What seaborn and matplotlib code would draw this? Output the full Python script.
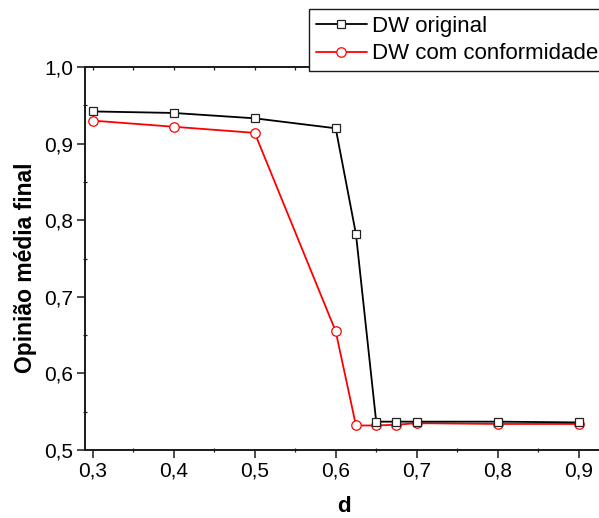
import matplotlib
matplotlib.use("Agg")
import matplotlib.pyplot as plt
from matplotlib.ticker import FuncFormatter, MultipleLocator, NullFormatter
import seaborn as sns
import pandas as pd

# Bounded-confidence (Deffuant-Weisbuch) final mean opinion vs threshold d
d_original = [0.3, 0.4, 0.5, 0.6, 0.625, 0.65, 0.675, 0.7, 0.8, 0.9]
op_original = [0.942, 0.940, 0.933, 0.920, 0.782, 0.537, 0.537, 0.537, 0.537, 0.536]

d_conform = [0.3, 0.4, 0.5, 0.6, 0.625, 0.65, 0.675, 0.7, 0.8, 0.9]
op_conform = [0.930, 0.922, 0.914, 0.655, 0.532, 0.532, 0.533, 0.535, 0.534, 0.534]

label_original = "DW original"
label_conform = "DW com conformidade"

x_ticks = [0.3, 0.4, 0.5, 0.6, 0.7, 0.8, 0.9]
y_ticks = [0.5, 0.6, 0.7, 0.8, 0.9, 1.0]

sns.set_theme(style="ticks")
plt.rcParams["font.family"] = ["Liberation Sans", "DejaVu Sans"]

fig = plt.figure(figsize=(5.99, 5.18), dpi=100)
W, H = 599, 518
x_lo, x_hi = 0.2905, 0.93
px_per_unit = 810.0
ax_left, ax_top, ax_bottom = 85, 67, 450
ax_right = ax_left + (x_hi - x_lo) * px_per_unit
ax = fig.add_axes([ax_left / W, 1 - ax_bottom / H,
                   (ax_right - ax_left) / W, (ax_bottom - ax_top) / H])

df_o = pd.DataFrame({"d": d_original, "op": op_original})
df_c = pd.DataFrame({"d": d_conform, "op": op_conform})

sns.lineplot(data=df_o, x="d", y="op", ax=ax, color="black", lw=1.3,
             marker="s", markersize=5.8, markerfacecolor="white",
             markeredgecolor="#222222", markeredgewidth=0.9,
             label=label_original, zorder=3)
sns.lineplot(data=df_c, x="d", y="op", ax=ax, color="#ff0000", lw=1.3,
             marker="o", markersize=6.8, markerfacecolor="white",
             markeredgecolor="#ff0000", markeredgewidth=0.9,
             label=label_conform, zorder=2)

ax.set_xlim(x_lo, x_hi)
ax.set_ylim(0.5, 1.0)
ax.set_xticks(x_ticks)
ax.set_yticks(y_ticks)
ax.xaxis.set_minor_locator(MultipleLocator(0.05))
ax.yaxis.set_minor_locator(MultipleLocator(0.05))
fmt = FuncFormatter(lambda v, p: f"{v:.1f}".replace(".", ","))
ax.xaxis.set_major_formatter(fmt)
ax.yaxis.set_major_formatter(fmt)

for s in ax.spines.values():
    s.set_color("#1a1a1a")
    s.set_linewidth(1.4)

ax.tick_params(which="major", direction="out", length=5.5, width=1.1,
               color="#1a1a1a", labelsize=15, labelcolor="black", pad=3)
ax.tick_params(which="minor", direction="inout", length=2.5, width=0.9,
               color="#1a1a1a")

# small inward ticks along the top edge
top = ax.secondary_xaxis("top")
top.set_xticks(x_ticks)
top.xaxis.set_minor_locator(MultipleLocator(0.05))
top.xaxis.set_major_formatter(NullFormatter())
top.tick_params(which="both", direction="in", length=2.5, width=0.9,
                color="#1a1a1a")
top.spines["top"].set_visible(False)

ax.set_xlabel("d", fontsize=16, fontweight="bold", color="black", labelpad=11)
ax.set_ylabel("Opinião média final", fontsize=16.5, fontweight="bold",
              color="black")
ax.yaxis.set_label_coords(-0.093, 0.475)

leg = ax.legend(loc="upper left", bbox_to_anchor=(309 / W, 1 - 9 / H),
                bbox_transform=fig.transFigure, frameon=True, fancybox=False,
                fontsize=16, handlelength=2.3, handletextpad=0.25,
                borderpad=0.3, labelspacing=0.3, borderaxespad=0)
leg.get_frame().set_edgecolor("#1a1a1a")
leg.get_frame().set_linewidth(1.0)
leg.get_frame().set_alpha(1)
leg.set_zorder(5)
for t in leg.get_texts():
    t.set_color("black")

fig.savefig("out.png", dpi=100)
